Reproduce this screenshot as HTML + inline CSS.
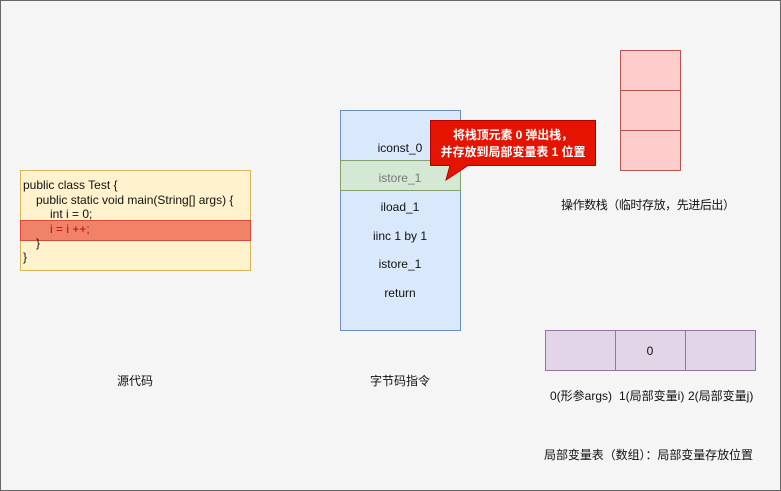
<!DOCTYPE html>
<html><head><meta charset="utf-8"><style>
html,body{margin:0;padding:0;background:#fff}
svg{display:block}
text{font-family:"Liberation Sans","Noto Sans CJK SC",sans-serif;font-size:12px;fill:#111}
</style></head><body>
<svg width="781" height="491" viewBox="0 0 781 491">
<rect x="0.5" y="0.5" width="780" height="490" fill="#f5f5f5" stroke="#666"/>
<!-- code -->
<rect x="20.5" y="170.5" width="230" height="100" fill="#fff2cc" stroke="#d6b656"/>
<rect x="20.5" y="220.5" width="230" height="20" fill="#f08268" stroke="#d64a3a"/>
<g style="font-size:11px">
<text x="23" y="189">public class Test {</text>
<text x="36" y="204">public static void main(String[] args) {</text>
<text x="50" y="218">int i = 0;</text>
<text x="50" y="233" style="fill:#b01010">i = i ++;</text>
<text x="36" y="247">}</text>
<text x="23" y="261">}</text>
</g>
<text x="135" y="385" text-anchor="middle">源代码</text>
<!-- bytecode -->
<rect x="340.5" y="110.5" width="120" height="220" fill="#dae8fc" stroke="#6c8ebf"/>
<rect x="340.5" y="160.5" width="120" height="30" fill="#d5e8d4" stroke="#82a070"/>
<text x="400" y="152" text-anchor="middle">iconst_0</text>
<text x="400" y="182" text-anchor="middle" style="fill:#777">istore_1</text>
<text x="400" y="211" text-anchor="middle">iload_1</text>
<text x="400" y="240" text-anchor="middle">iinc 1 by 1</text>
<text x="400" y="268" text-anchor="middle">istore_1</text>
<text x="400" y="297" text-anchor="middle">return</text>
<text x="400" y="385" text-anchor="middle">字节码指令</text>
<!-- callout -->
<path d="M430.5 120.5 H595.5 V165.5 H468 L446 180 L450 165.5 H430.5 Z" fill="#e51400" stroke="#b20000"/>
<text x="513" y="139" text-anchor="middle" textLength="120" style="fill:#fff;font-weight:bold">将栈顶元素 0 弹出栈，</text>
<text x="513" y="156" text-anchor="middle" textLength="145" style="fill:#fff;font-weight:bold">并存放到局部变量表 1 位置</text>
<!-- operand stack -->
<rect x="620.5" y="50.5" width="60" height="40" fill="#ffcccc" stroke="#b85450"/>
<rect x="620.5" y="90.5" width="60" height="40" fill="#ffcccc" stroke="#b85450"/>
<rect x="620.5" y="130.5" width="60" height="40" fill="#ffcccc" stroke="#b85450"/>
<text x="648" y="209" text-anchor="middle" textLength="174">操作数栈（临时存放，先进后出）</text>
<!-- local vars -->
<rect x="545.5" y="330.5" width="70" height="40" fill="#e1d5e7" stroke="#9673a6"/>
<rect x="615.5" y="330.5" width="70" height="40" fill="#e1d5e7" stroke="#9673a6"/>
<rect x="685.5" y="330.5" width="70" height="40" fill="#e1d5e7" stroke="#9673a6"/>
<text x="650" y="355" text-anchor="middle">0</text>
<text x="550" y="400">0(形参args)</text>
<text x="619" y="400">1(局部变量i)</text>
<text x="688" y="400">2(局部变量j)</text>
<text x="544" y="459" textLength="209">局部变量表（数组）：局部变量存放位置</text>
</svg>
</body></html>
